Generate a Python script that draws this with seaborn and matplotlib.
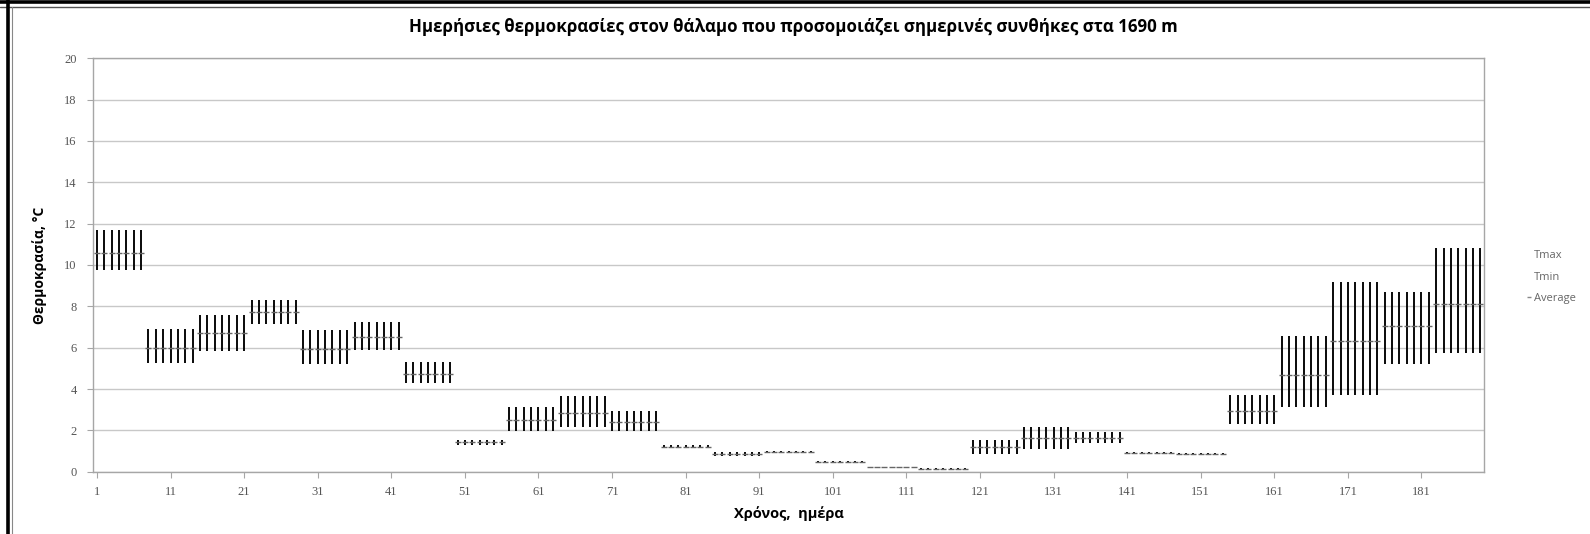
import numpy as np
import pandas as pd
import matplotlib
matplotlib.use("Agg")
import matplotlib.pyplot as plt
from matplotlib.lines import Line2D
import seaborn as sns

# Weekly chamber set-points (each value holds for 7 consecutive days)
week_tmax = [11.7, 6.9, 7.6, 8.3, 6.85, 7.25, 5.3, 1.55, 3.15, 3.65, 2.95, 1.27, 0.95, 1.0,
             0.5, 0.25, 0.17, 1.55, 2.15, 1.9, 0.95, 0.9, 3.7, 6.55, 9.2, 8.7, 10.8]
week_tmin = [9.75, 5.25, 5.85, 7.15, 5.2, 5.9, 4.3, 1.3, 1.95, 2.15, 1.95, 1.15, 0.75, 0.9,
             0.4, 0.17, 0.08, 0.85, 1.1, 1.4, 0.88, 0.82, 2.3, 3.15, 3.7, 5.2, 5.75]
week_avg = [10.6, 6.0, 6.7, 7.75, 5.95, 6.5, 4.75, 1.42, 2.5, 2.85, 2.4, 1.21, 0.85, 0.95,
            0.45, 0.21, 0.13, 1.2, 1.65, 1.65, 0.92, 0.86, 2.95, 4.7, 6.3, 7.05, 8.1]
days_per_week = 7

x_tick_labels = [str(d) for d in range(1, 190, 10)]
y_ticks = [0, 2, 4, 6, 8, 10, 12, 14, 16, 18, 20]

title = "Ημερήσιες θερμοκρασίες στον θάλαμο που προσομοιάζει σημερινές συνθήκες στα 1690 m"
xlabel = "Χρόνος,  ημέρα"
ylabel = "Θερμοκρασία, °C"
legend_labels = ["Tmax", "Tmin", "Average"]

# Daily table
n_days = len(week_tmax) * days_per_week
df = pd.DataFrame({
    "day": np.arange(1, n_days + 1),
    "Tmax": np.repeat(week_tmax, days_per_week),
    "Tmin": np.repeat(week_tmin, days_per_week),
    "Average": np.repeat(week_avg, days_per_week),
})

sns.set_theme(style="white")
plt.rcParams["font.family"] = ["Open Sans", "DejaVu Sans"]

fig = plt.figure(figsize=(15.9, 5.34), dpi=100)
ax = fig.add_axes([93.3 / 1590, 1 - 471.7 / 534, (1484 - 93.3) / 1590, (471.7 - 58.3) / 534])

grid_c = "#c8c8c8"
for y in y_ticks:
    ax.axhline(y, color=grid_c, lw=1.0, zorder=0)

# High-low bars
ax.vlines(df["day"], df["Tmin"], df["Tmax"], color="black", lw=1.35, zorder=2)
# Daily average markers
sns.scatterplot(data=df, x="day", y="Average", marker="_", s=14, color="#666666",
                linewidth=1.0, ax=ax, zorder=3, legend=False)

ax.set_xlim(0.5, n_days + 0.5)
ax.set_ylim(0, 20)
ax.set_xticks(np.arange(1, n_days + 1, 10))
ax.set_xticklabels(x_tick_labels)
ax.set_yticks(y_ticks)
ax.set_yticklabels([str(v) for v in y_ticks])

for s in ax.spines.values():
    s.set_color("#a6a6a6")
    s.set_linewidth(1.0)
ax.tick_params(axis="both", which="major", direction="out", length=4, width=0.8,
               color="#a6a6a6", labelcolor="#555555", labelsize=9, pad=8)
ax.tick_params(axis="x", bottom=True, pad=6)
ax.tick_params(axis="y", left=True)
for lab in ax.get_xticklabels() + ax.get_yticklabels():
    lab.set_family(["Liberation Serif", "DejaVu Serif"])

ax.set_xlabel(xlabel, fontsize=10.5, fontweight="bold", color="black", labelpad=6)
ax.set_ylabel(ylabel, fontsize=10, fontweight="bold", color="black", labelpad=12)
fig.text(0.499, 1 - 27.5 / 534, title, ha="center", va="center", fontsize=12.2,
         fontweight="bold", color="black")

handles = [Line2D([], [], lw=0, marker=None),
           Line2D([], [], lw=0, marker=None),
           Line2D([], [], lw=0, marker="_", markersize=3, color="#888888", markeredgewidth=1)]
leg = fig.legend(handles, legend_labels, loc="upper left",
                 bbox_to_anchor=(1517 / 1590, 1 - 240 / 534), frameon=False,
                 fontsize=8, handlelength=0.4, handletextpad=0.25, labelspacing=0.95)
for t in leg.get_texts():
    t.set_color("#666666")

# Outer frame of the figure
fig.add_artist(Line2D([0, 1], [1 - 2 / 534, 1 - 2 / 534], transform=fig.transFigure,
                      color="black", lw=2.6))
fig.add_artist(Line2D([0, 1], [1 - 7 / 534, 1 - 7 / 534], transform=fig.transFigure,
                      color="#555555", lw=1.0))
fig.add_artist(Line2D([8 / 1590, 8 / 1590], [0, 1], transform=fig.transFigure,
                      color="black", lw=2.6))
fig.add_artist(Line2D([12 / 1590, 12 / 1590], [0, 1 - 7 / 534], transform=fig.transFigure,
                      color="#888888", lw=0.8))

fig.savefig("out.png", dpi=100)
